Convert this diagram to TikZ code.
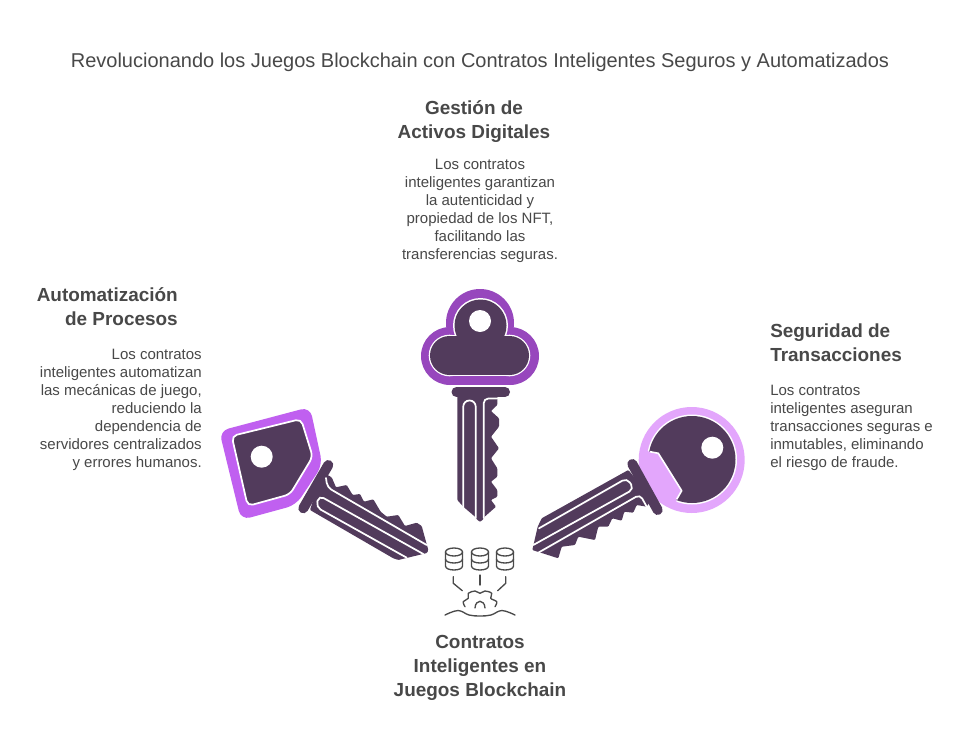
\documentclass[tikz,border=0pt]{standalone}
\usepackage{fontspec}
\setmainfont{Liberation Sans}
\definecolor{keydark}{HTML}{523B5C}
\definecolor{keyA}{HTML}{9747BD}
\definecolor{keyB}{HTML}{C060F0}
\definecolor{keyC}{HTML}{E3A6FC}
\definecolor{txt}{HTML}{484848}
\definecolor{ico}{HTML}{4A4A4A}
\tikzset{
  x=.75pt,y=-.75pt,
  titletxt/.style={text=txt,font=\fontsize{15pt}{18pt}\selectfont,inner sep=0pt},
  headtxt/.style={text=txt,font=\fontsize{14.2pt}{18pt}\selectfont\bfseries,inner sep=0pt},
  bodytxt/.style={text=txt,font=\fontsize{11.25pt}{13.5pt}\selectfont,inner sep=0pt},
  groove/.style={draw=white,line width=1.3pt,rounded corners=3.5pt,line cap=round},
  guardbar/.style={draw=keydark,line width=7.5pt,line cap=round},
  blade/.style={fill=keydark,rounded corners=.7pt},
  icon/.style={draw=ico,line width=1pt,line cap=round,line join=round},
}
\newcommand{\dbstack}[1]{%
  \draw[icon] (#1,552) ellipse[x radius=8.5,y radius=4];
  \draw[icon] (#1-8.5,552) -- (#1-8.5,566) .. controls (#1-8.5,571.3) and (#1+8.5,571.3) .. (#1+8.5,566) -- (#1+8.5,552);
  \draw[icon] (#1-8.5,559) .. controls (#1-8.5,564.3) and (#1+8.5,564.3) .. (#1+8.5,559);
}
\begin{document}
\begin{tikzpicture}
\useasboundingbox[fill=white] (0,0) rectangle (972,750);

% Text
\node[titletxt] (title) at (480,62) {Revolucionando los Juegos Blockchain con Contratos Inteligentes Seguros y Automatizados};
\node[headtxt,align=center] (h1) at (474,122) {Gestión de\\Activos Digitales};
\node[bodytxt,align=center] (b1) at (480,211) {Los contratos\\inteligentes garantizan\\la autenticidad y\\propiedad de los NFT,\\facilitando las\\transferencias seguras.};
\node[headtxt,align=right,anchor=east] (h2) at (178,306.5) {Automatización\\de Procesos};
\node[bodytxt,align=right,anchor=east] (b2) at (202,410) {Los contratos\\inteligentes automatizan\\las mecánicas de juego,\\reduciendo la\\dependencia de\\servidores centralizados\\y errores humanos.};
\node[headtxt,align=left,anchor=west] (h3) at (770,342.5) {Seguridad de\\Transacciones};
\node[bodytxt,align=left,anchor=west] (b3) at (770,428) {Los contratos\\inteligentes aseguran\\transacciones seguras e\\inmutables, eliminando\\el riesgo de fraude.};
\node[headtxt,align=center] (h4) at (480,668) {Contratos\\Inteligentes en\\Juegos Blockchain};

% Top key: head
\fill[keyA] (480,323) circle[radius=34] (450,356) circle[radius=29] (510,356) circle[radius=29];
\fill[keyA] (450,327) rectangle (510,385);
\fill[white] (480.5,325.5) circle[radius=27.5] (449.5,355.5) circle[radius=20.8] (509.5,355.5) circle[radius=20.8];
\fill[white] (449.5,334.7) rectangle (509.5,376.3);
\fill[keydark] (480.5,325.5) circle[radius=26] (449.5,355.5) circle[radius=19.5] (509.5,355.5) circle[radius=19.5];
\fill[keydark] (449.5,336) rectangle (509.5,375);
\fill[white] (480,321) circle[radius=11];
% Top key: blade
\draw[guardbar] (456.5,392) -- (505,392);
\fill[blade] (457.3,395) -- (497.3,395) -- (497.3,405) -- (491,411) -- (499,418.3) -- (499,426.7) -- (491,436.7) -- (499,448.3) -- (491,458.3) -- (497.3,468.3) -- (497.3,476.7) -- (491,481.7) -- (497.3,490) -- (497.3,496.7) -- (491,500) -- (496,506.7) -- (484,517.3) -- (483.5,519) -- (480,522) -- (476.5,519) -- (475.7,517.3) -- (463.3,506.7) -- (457.3,500) -- cycle;
\draw[groove,rounded corners=4.5pt] (463.3,508) -- (463.3,400.5) -- (475.7,400.5) -- (475.7,518);
\draw[groove] (483.7,518) -- (483.7,398.5) -- (497.3,398.5);

% Left key: head
\fill[keyB,rounded corners=7pt] (219.3,431) -- (310,407) -- (322.5,465) -- (296,505) -- (241,520) -- cycle;
\draw[draw=white,fill=keydark,line width=1.3pt,rounded corners=4pt] (231.7,436) -- (301,419) -- (312.7,456.7) -- (290,494.3) -- (247.7,506) -- cycle;
\fill[white] (261.7,456.7) circle[radius=11];
% Left key: blade
\fill[blade] (322,472) -- (331.7,477.3) -- (336,487.3) -- (346.7,485) -- (352.7,495) -- (360,494) -- (364,501.7) -- (373.3,499.3) -- (380.7,511.7) -- (386.7,516.7) -- (398.3,515) -- (405,526) -- (416.7,522.7) -- (421.7,526) -- (428.3,550) -- (427,553) -- (398.3,560) -- (393.3,558.3) -- (310,510) -- cycle;
\draw[guardbar] (328.3,465) -- (303.3,508.3);
\draw[groove] (326,478) -- (327.3,487.3) -- (426.7,545);
\draw[groove,rounded corners=4pt] (423.3,554) -- (319,495.5) -- (316,507) -- (406.7,557.7);

% Right key: head
\fill[keyC] (691.7,460) circle[radius=53];
\fill[white] (692,459.5) circle[radius=45];
\fill[keydark] (692,459.5) circle[radius=43.5];
\fill[keyC] (650,451.7) -- (658.3,453.3) -- (681.7,490.7) -- (676.7,499.3) -- (675.7,505) -- (661.7,501.7) -- (646.7,481.7) -- (640,463.3) -- (642.3,450) -- cycle;
\draw[white,line width=1.2pt,line join=round] (650,451.7) -- (658.3,453.3) -- (681.7,490.7) -- (676.7,499.3);
\fill[white] (712.3,447.7) circle[radius=11];
% Right key: blade
\fill[blade] (628.3,470) -- (541.7,518.3) -- (537.7,526.7) -- (532.3,550) -- (558.3,558.3) -- (561.7,546.7) -- (575,545) -- (578.3,536.7) -- (595,540) -- (598.3,526.7) -- (608.3,526.7) -- (612.3,518.3) -- (621.7,520.7) -- (624.3,511.7) -- (633.3,512.7) -- (636.7,505) -- (646.7,506.7) -- (652,498) -- cycle;
\draw[guardbar] (632.3,464) -- (657.7,510);
\draw[groove,rounded corners=4pt] (539,528.3) -- (627,478) -- (634,489) -- (533.3,545);
\draw[groove] (538.3,552.7) -- (640,494.5) -- (646.7,506.7);

% Central icon
\dbstack{454}
\dbstack{480}
\dbstack{505}
\draw[icon] (453.3,576.7) -- (453.3,583.3) -- (462.3,590.7);
\draw[icon] (480,575) -- (480,585);
\draw[icon] (505.7,576.7) -- (505.7,583.3) -- (497.7,590.7);
\draw[icon] plot[smooth,tension=.6] coordinates {(465,606.7) (463.3,601.7) (468.3,598.3) (468.3,593.3) (475,591) (480,593.3) (485,591) (491.7,593.3) (490.7,598.3) (496.7,601.7) (495,606.7)};
\draw[icon] (475,608) .. controls (475.5,599) and (484.5,599) .. (485,608);
\draw[icon] plot[smooth,tension=.6] coordinates {(445,615) (458,610.5) (469,615) (480,616) (491,615) (502,610.5) (515,615)};
\end{tikzpicture}
\end{document}
